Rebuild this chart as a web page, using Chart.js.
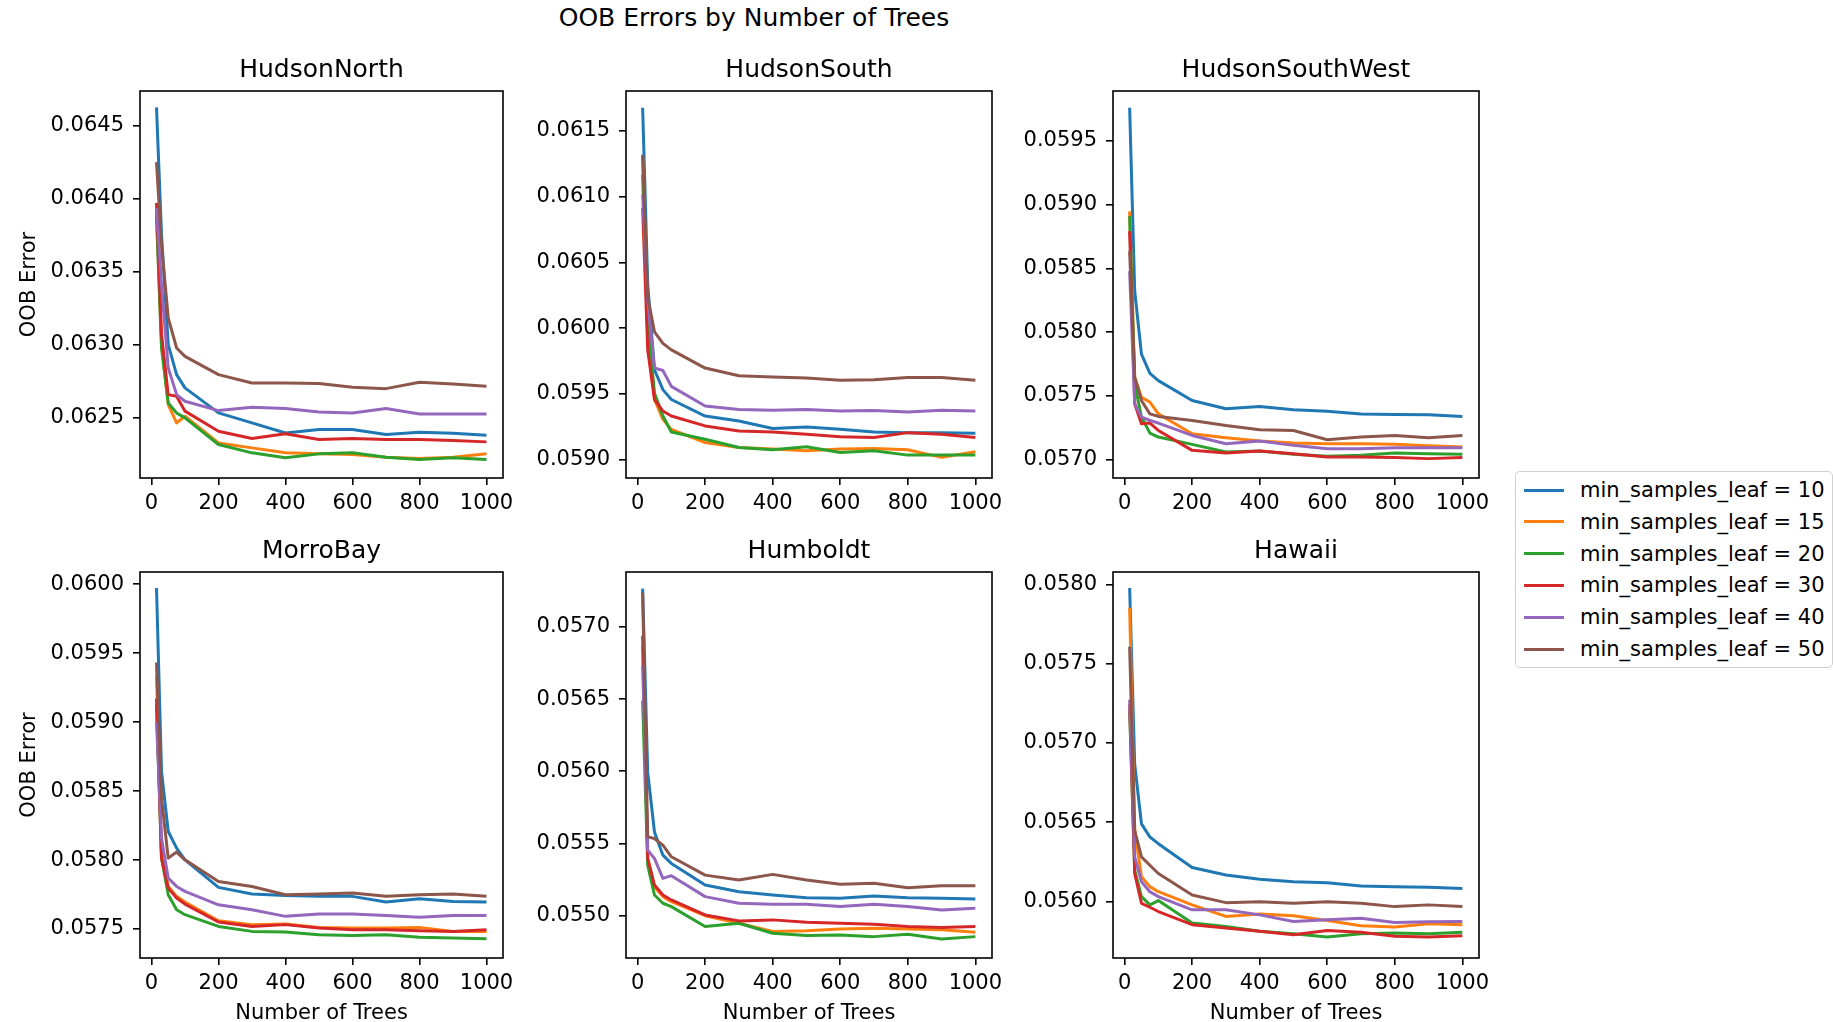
<!DOCTYPE html>
<html>
<head>
<meta charset="utf-8">
<script src="https://cdn.jsdelivr.net/npm/chart.js@4.4.1/dist/chart.umd.min.js"></script>
<style>
html, body { margin: 0; padding: 0; background: #fff; }
#page { position: relative; width: 1833px; height: 1022px; overflow: hidden; font-family: 'DejaVu Sans', sans-serif; color: #000; }
#page canvas { position: absolute; }
#suptitle { position: absolute; left: 454px; width: 600px; top: 3px; text-align: center; font-size: 25px; line-height: 30px; }
#legend { position: absolute; left: 1515px; top: 471px; width: 318px; height: 197px; border: 1.6px solid #d0d0d0; border-radius: 5px; background: rgba(255,255,255,0.8); box-sizing: border-box; }
.lg-item { position: absolute; left: 0; height: 24px; width: 316px; }
.lg-line { position: absolute; left: 8px; top: 10.5px; width: 40px; height: 3px; }
.lg-text { position: absolute; left: 64px; top: 0; font-size: 21px; line-height: 24px; white-space: nowrap; }
</style>
</head>
<body>
<div id="page">
  <div id="suptitle">OOB Errors by Number of Trees</div>
  <div id="legend"></div>
</div>
<script>
// ---- data ----
const nTrees = [15, 30, 50, 75, 100, 200, 300, 400, 500, 600, 700, 800, 900, 1000];
const xTickValues = [0, 200, 400, 600, 800, 1000];
const leafSizes = [10, 15, 20, 30, 40, 50];
const seriesLabels = leafSizes.map(v => 'min_samples_leaf = ' + v);
const seriesColors = ['#1f77b4', '#ff7f0e', '#2ca02c', '#d62728', '#9467bd', '#8c564b'];
const siteNames = ['HudsonNorth', 'HudsonSouth', 'HudsonSouthWest', 'MorroBay', 'Humboldt', 'Hawaii'];

// rows: min_samples_leaf = 10, 15, 20, 30, 40, 50
const hudsonNorth = [
  [0.064623, 0.063753, 0.063001, 0.062796, 0.062705, 0.062534, 0.062466, 0.062397, 0.062420, 0.062420, 0.062386, 0.062402, 0.062395, 0.062381],
  [0.063901, 0.063001, 0.062591, 0.062466, 0.062511, 0.062329, 0.062295, 0.062261, 0.062254, 0.062249, 0.062231, 0.062222, 0.062231, 0.062254],
  [0.063878, 0.062978, 0.062602, 0.062534, 0.062500, 0.062318, 0.062261, 0.062227, 0.062254, 0.062261, 0.062231, 0.062215, 0.062227, 0.062215],
  [0.063969, 0.063069, 0.062659, 0.062648, 0.062546, 0.062409, 0.062359, 0.062391, 0.062352, 0.062359, 0.062352, 0.062352, 0.062345, 0.062336],
  [0.063935, 0.063411, 0.062842, 0.062659, 0.062614, 0.062550, 0.062573, 0.062564, 0.062541, 0.062534, 0.062564, 0.062527, 0.062527, 0.062527],
  [0.064249, 0.063684, 0.063183, 0.062978, 0.062921, 0.062796, 0.062739, 0.062739, 0.062735, 0.062710, 0.062700, 0.062744, 0.062732, 0.062716]
];
const hudsonSouth = [
  [0.061676, 0.060338, 0.059684, 0.059533, 0.059458, 0.059332, 0.059294, 0.059237, 0.059249, 0.059231, 0.059211, 0.059206, 0.059206, 0.059201],
  [0.061306, 0.060087, 0.059458, 0.059307, 0.059231, 0.059131, 0.059093, 0.059081, 0.059068, 0.059081, 0.059086, 0.059076, 0.059018, 0.059060],
  [0.061168, 0.060036, 0.059508, 0.059332, 0.059211, 0.059156, 0.059093, 0.059076, 0.059098, 0.059055, 0.059068, 0.059035, 0.059035, 0.059035],
  [0.060917, 0.059835, 0.059458, 0.059370, 0.059332, 0.059257, 0.059219, 0.059211, 0.059194, 0.059174, 0.059169, 0.059206, 0.059194, 0.059169],
  [0.061017, 0.060212, 0.059697, 0.059679, 0.059558, 0.059408, 0.059382, 0.059377, 0.059382, 0.059370, 0.059375, 0.059362, 0.059377, 0.059370],
  [0.061319, 0.060237, 0.059973, 0.059885, 0.059835, 0.059697, 0.059639, 0.059629, 0.059621, 0.059604, 0.059609, 0.059626, 0.059626, 0.059604]
];
const hudsonSouthWest = [
  [0.059760, 0.058323, 0.057828, 0.057677, 0.057620, 0.057464, 0.057399, 0.057417, 0.057391, 0.057380, 0.057359, 0.057354, 0.057352, 0.057339],
  [0.058948, 0.057646, 0.057490, 0.057451, 0.057359, 0.057203, 0.057172, 0.057146, 0.057130, 0.057125, 0.057125, 0.057120, 0.057109, 0.057099],
  [0.058909, 0.057594, 0.057334, 0.057208, 0.057177, 0.057120, 0.057060, 0.057068, 0.057042, 0.057026, 0.057034, 0.057052, 0.057047, 0.057042],
  [0.058792, 0.057438, 0.057281, 0.057287, 0.057229, 0.057073, 0.057052, 0.057068, 0.057047, 0.057021, 0.057021, 0.057016, 0.057008, 0.057016],
  [0.058479, 0.057438, 0.057334, 0.057307, 0.057287, 0.057190, 0.057125, 0.057146, 0.057112, 0.057086, 0.057086, 0.057094, 0.057094, 0.057094],
  [0.058636, 0.057646, 0.057464, 0.057359, 0.057339, 0.057307, 0.057268, 0.057235, 0.057229, 0.057156, 0.057177, 0.057190, 0.057172, 0.057190]
];
const morroBay = [
  [0.059973, 0.058641, 0.058207, 0.058087, 0.058002, 0.057802, 0.057754, 0.057744, 0.057737, 0.057737, 0.057696, 0.057720, 0.057700, 0.057696],
  [0.059341, 0.058038, 0.057809, 0.057737, 0.057696, 0.057560, 0.057531, 0.057536, 0.057512, 0.057507, 0.057507, 0.057512, 0.057483, 0.057483],
  [0.059124, 0.058014, 0.057749, 0.057640, 0.057604, 0.057519, 0.057483, 0.057478, 0.057459, 0.057454, 0.057459, 0.057440, 0.057435, 0.057430],
  [0.059172, 0.058014, 0.057797, 0.057725, 0.057681, 0.057551, 0.057519, 0.057532, 0.057507, 0.057495, 0.057495, 0.057488, 0.057483, 0.057495],
  [0.059003, 0.058159, 0.057869, 0.057809, 0.057773, 0.057676, 0.057640, 0.057592, 0.057609, 0.057609, 0.057599, 0.057585, 0.057599, 0.057599],
  [0.059433, 0.058448, 0.058014, 0.058058, 0.058002, 0.057845, 0.057809, 0.057749, 0.057754, 0.057761, 0.057737, 0.057749, 0.057754, 0.057737]
];
const humboldt = [
  [0.057265, 0.055994, 0.055580, 0.055419, 0.055362, 0.055212, 0.055166, 0.055143, 0.055125, 0.055120, 0.055136, 0.055125, 0.055120, 0.055115],
  [0.056869, 0.055396, 0.055201, 0.055132, 0.055097, 0.055000, 0.054948, 0.054890, 0.054895, 0.054908, 0.054913, 0.054908, 0.054902, 0.054885],
  [0.056489, 0.055350, 0.055143, 0.055086, 0.055063, 0.054925, 0.054948, 0.054878, 0.054862, 0.054867, 0.054855, 0.054872, 0.054839, 0.054855],
  [0.056938, 0.055396, 0.055212, 0.055143, 0.055109, 0.055005, 0.054964, 0.054971, 0.054954, 0.054948, 0.054941, 0.054925, 0.054918, 0.054925],
  [0.056731, 0.055454, 0.055396, 0.055258, 0.055277, 0.055132, 0.055086, 0.055079, 0.055079, 0.055063, 0.055079, 0.055063, 0.055040, 0.055051],
  [0.057237, 0.055546, 0.055534, 0.055488, 0.055408, 0.055281, 0.055247, 0.055286, 0.055247, 0.055217, 0.055224, 0.055194, 0.055208, 0.055208]
];
const hawaii = [
  [0.057977, 0.056866, 0.056490, 0.056407, 0.056365, 0.056215, 0.056167, 0.056140, 0.056125, 0.056119, 0.056098, 0.056094, 0.056090, 0.056083],
  [0.057852, 0.056449, 0.056156, 0.056094, 0.056062, 0.055979, 0.055906, 0.055922, 0.055910, 0.055881, 0.055847, 0.055839, 0.055860, 0.055854],
  [0.057200, 0.056198, 0.056031, 0.055979, 0.056006, 0.055864, 0.055843, 0.055812, 0.055797, 0.055776, 0.055797, 0.055801, 0.055797, 0.055806],
  [0.057242, 0.056177, 0.055989, 0.055964, 0.055937, 0.055854, 0.055833, 0.055812, 0.055791, 0.055818, 0.055806, 0.055781, 0.055776, 0.055785],
  [0.057273, 0.056282, 0.056125, 0.056062, 0.056031, 0.055948, 0.055948, 0.055916, 0.055874, 0.055885, 0.055895, 0.055868, 0.055872, 0.055874],
  [0.057607, 0.056449, 0.056282, 0.056229, 0.056177, 0.056041, 0.055993, 0.055999, 0.055989, 0.055999, 0.055989, 0.055968, 0.055979, 0.055968]
];

const hudsonNorthTicks = [0.0625, 0.0630, 0.0635, 0.0640, 0.0645];
const hudsonSouthTicks = [0.0590, 0.0595, 0.0600, 0.0605, 0.0610, 0.0615];
const hudsonSouthWestTicks = [0.0570, 0.0575, 0.0580, 0.0585, 0.0590, 0.0595];
const morroBayTicks = [0.0575, 0.0580, 0.0585, 0.0590, 0.0595, 0.0600];
const humboldtTicks = [0.0550, 0.0555, 0.0560, 0.0565, 0.0570];
const hawaiiTicks = [0.0560, 0.0565, 0.0570, 0.0575, 0.0580];

// ---- layout (plot areas in page pixels, axis limits) ----
const panels = [
  { data: hudsonNorth,     ticks: hudsonNorthTicks,     yMin: 0.062089, yMax: 0.064735, area: [140, 91, 503, 478], col: 0, row: 0 },
  { data: hudsonSouth,     ticks: hudsonSouthTicks,     yMin: 0.058861, yMax: 0.061804, area: [626, 91, 992, 478], col: 1, row: 0 },
  { data: hudsonSouthWest, ticks: hudsonSouthWestTicks, yMin: 0.056856, yMax: 0.059892, area: [1113, 91, 1479, 478], col: 2, row: 0 },
  { data: morroBay,        ticks: morroBayTicks,        yMin: 0.057290, yMax: 0.060089, area: [140, 572, 503, 958], col: 0, row: 1 },
  { data: humboldt,        ticks: humboldtTicks,        yMin: 0.054707, yMax: 0.057380, area: [626, 572, 992, 958], col: 1, row: 1 },
  { data: hawaii,          ticks: hawaiiTicks,          yMin: 0.055644, yMax: 0.058078, area: [1113, 572, 1479, 958], col: 2, row: 1 }
];

Chart.defaults.font.family = "'DejaVu Sans', sans-serif";
Chart.defaults.color = '#000';

const framePlugin = {
  id: 'frame',
  afterDraw(chart) {
    const { ctx, chartArea: a } = chart;
    ctx.save();
    ctx.strokeStyle = '#000';
    ctx.lineWidth = 1.6;
    ctx.strokeRect(a.left, a.top, a.right - a.left, a.bottom - a.top);
    ctx.restore();
  }
};

const page = document.getElementById('page');
const TITLE_H = 38, RIGHT_PAD = 30;

panels.forEach((p, idx) => {
  const [L, T, R, B] = p.area;
  const yw = p.col === 0 ? 140 : 110;
  const xh = p.row === 1 ? 68 : 40;
  const canvas = document.createElement('canvas');
  const w = yw + (R - L) + RIGHT_PAD;
  const h = TITLE_H + (B - T) + xh;
  canvas.width = w; canvas.height = h;
  canvas.style.width = w + 'px'; canvas.style.height = h + 'px';
  canvas.style.left = (L - yw) + 'px';
  canvas.style.top = (T - TITLE_H) + 'px';
  page.insertBefore(canvas, page.firstChild);

  const tickGrid = { display: true, drawOnChartArea: false, drawTicks: true, tickLength: 7, color: '#000', lineWidth: 1.6 };

  new Chart(canvas, {
    type: 'line',
    data: {
      datasets: p.data.map((vals, i) => ({
        label: seriesLabels[i],
        data: nTrees.map((x, k) => ({ x: x, y: vals[k] })),
        borderColor: seriesColors[i],
        backgroundColor: seriesColors[i],
        borderWidth: 3,
        pointRadius: 0,
        pointHoverRadius: 0,
        tension: 0,
        fill: false,
        borderJoinStyle: 'round',
        order: p.data.length - 1 - i
      }))
    },
    options: {
      responsive: false,
      devicePixelRatio: 1,
      animation: false,
      events: [],
      layout: { padding: { left: 0, right: RIGHT_PAD, top: 0, bottom: 0 } },
      plugins: {
        legend: { display: false },
        tooltip: { enabled: false },
        title: {
          display: true, text: siteNames[idx], fullSize: false, color: '#000',
          font: { size: 25, lineHeight: 1.2, weight: 'normal' },
          padding: { top: 2, bottom: 6 }
        }
      },
      scales: {
        x: {
          type: 'linear', min: -34.25, max: 1049.25,
          afterBuildTicks: s => { s.ticks = xTickValues.map(v => ({ value: v })); },
          afterFit: s => { s.height = xh; },
          ticks: { color: '#000', font: { size: 21 }, padding: 5.5, autoSkip: false, maxRotation: 0, minRotation: 0, callback: v => String(v) },
          grid: tickGrid,
          border: { display: false },
          title: { display: p.row === 1, text: 'Number of Trees', color: '#000', font: { size: 21, lineHeight: 1.2 }, padding: { top: 0, bottom: 0 } }
        },
        y: {
          type: 'linear', min: p.yMin, max: p.yMax,
          afterBuildTicks: s => { s.ticks = p.ticks.map(v => ({ value: v })); },
          afterFit: s => { s.width = yw; },
          ticks: { color: '#000', font: { size: 21 }, padding: 9, autoSkip: false, callback: v => Number(v).toFixed(4) },
          grid: tickGrid,
          border: { display: false },
          title: { display: p.col === 0, text: 'OOB Error', color: '#000', font: { size: 21, lineHeight: 1.2 }, padding: { top: 17, bottom: 0 } }
        }
      }
    },
    plugins: [framePlugin]
  });
});

// ---- legend ----
const legend = document.getElementById('legend');
seriesLabels.forEach((lab, i) => {
  const item = document.createElement('div');
  item.className = 'lg-item';
  item.style.top = (6 + i * 31.8) + 'px';
  const line = document.createElement('div');
  line.className = 'lg-line';
  line.style.background = seriesColors[i];
  const txt = document.createElement('div');
  txt.className = 'lg-text';
  txt.textContent = lab;
  item.appendChild(line); item.appendChild(txt);
  legend.appendChild(item);
});
</script>
</body>
</html>
